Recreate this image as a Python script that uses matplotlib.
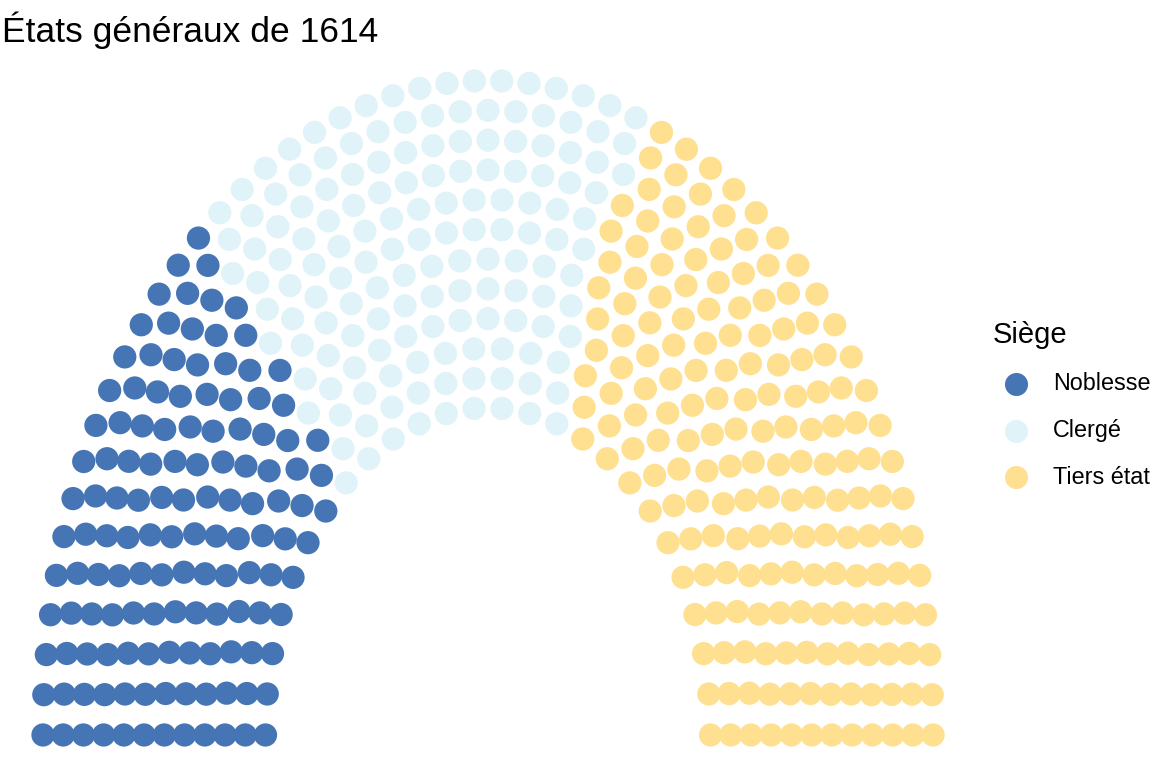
import matplotlib
matplotlib.use("Agg")
import matplotlib.pyplot as plt
import numpy as np
from matplotlib.lines import Line2D

# data
parties = ["Noblesse", "Clergé", "Tiers état"]
seats = [132, 149, 183]
colors = ["#4575b4", "#e0f3f8", "#fee090"]
n_rows = 12

plt.rcParams["font.family"] = ["Liberation Sans", "DejaVu Sans"]

# semicircle layout, seats spread evenly by angle on each row
total = sum(seats)
radii = np.linspace(1, 2, n_rows)
xs, ys, rs, thetas = [], [], [], []
for r in radii:
    n = int(np.round(total * r / radii.sum()))
    th = np.linspace(0, np.pi, n)
    xs.append(r * np.cos(th))
    ys.append(r * np.sin(th))
    rs.append(np.full(n, r))
    thetas.append(th)
xs = np.concatenate(xs)
ys = np.concatenate(ys)
rs = np.concatenate(rs)
thetas = np.concatenate(thetas)

# left to right: by angle (descending), outer row first
order = np.lexsort((-rs, -np.round(thetas, 9)))
party_idx = np.repeat(np.arange(len(parties)), seats)[:len(order)]
seat_colors = np.empty(len(order), dtype=object)
seat_colors[order] = [colors[i] for i in party_idx]

fig = plt.figure(figsize=(11.52, 7.68), dpi=100)
ax = fig.add_axes([0.00833, 0.0004, 0.8306, 0.9372])
ax.scatter(xs, ys, s=280, c=list(seat_colors), linewidths=0, clip_on=False)
ax.set_xlim(-2.15, 2.15)
ax.set_ylim(-0.1, 2.1)
ax.axis("off")

fig.text(2 / 1152, 1 - 42 / 768, "États généraux de 1614", fontsize=25.5, va="baseline", ha="left")

# legend
fig.text(993 / 1152, 1 - 343 / 768, "Siège", fontsize=21, va="baseline", ha="left")
key_y = [384, 431, 477]
for name, col, y in zip(parties, colors, key_y):
    fig.add_artist(Line2D([1016 / 1152], [1 - y / 768], transform=fig.transFigure,
                          marker="o", markersize=16.6, markerfacecolor=col,
                          markeredgewidth=0, linestyle="none"))
    fig.text(1053 / 1152, 1 - y / 768, name, fontsize=16.8, va="center", ha="left")

fig.savefig("out.png", dpi=100)
